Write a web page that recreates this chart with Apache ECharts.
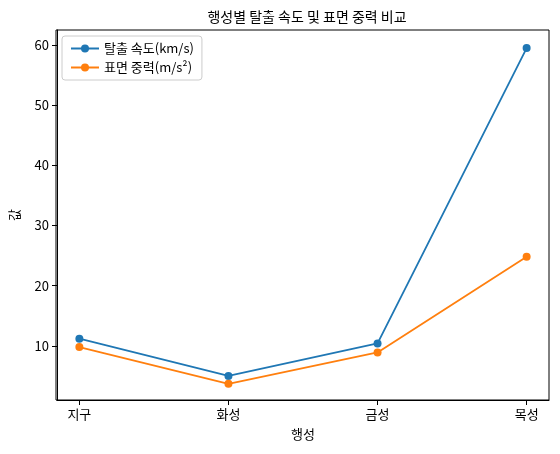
<!DOCTYPE html>
<html><head><meta charset="utf-8">
<script src="https://cdn.jsdelivr.net/npm/echarts@6/dist/echarts.min.js"></script>
<style>body{margin:0}#c{width:560px;height:454px}</style>
</head><body><div id="c"></div>
<script>
var planets = ["지구", "화성", "금성", "목성"];
var escapeVelocity = [11.2, 5.0, 10.4, 59.5];
var surfaceGravity = [9.8, 3.7, 8.9, 24.8];
var yTicks = [10, 20, 30, 40, 50, 60];

var font = "Noto Sans CJK KR";
var chart = echarts.init(document.getElementById('c'));
function pts(arr) {
    return arr.map(function(v, i) { return [i, v]; });
}
chart.setOption({
    animation: false,
    textStyle: { fontFamily: font },
    title: {
        text: "행성별 탈출 속도 및 표면 중력 비교",
        left: 302, top: 5, textAlign: 'center',
        textStyle: { fontSize: 14, fontWeight: 'normal', color: '#000', fontFamily: font }
    },
    legend: {
        left: 62, top: 36, orient: 'vertical',
        backgroundColor: '#fff', borderColor: '#ccc', borderWidth: 1, borderRadius: 3,
        padding: [6, 8], itemGap: 6, itemWidth: 28, itemHeight: 10,
        textStyle: { fontSize: 13, color: '#000', fontFamily: font },
        data: ["탈출 속도(km/s)", "표면 중력(m/s²)"]
    },
    grid: { left: 56, right: 11, top: 30, bottom: 54 },
    xAxis: {
        type: 'value', min: -0.15, max: 3.15,
        name: "행성", nameLocation: 'middle', nameGap: 28,
        nameTextStyle: { fontSize: 13, color: '#000' },
        splitLine: { show: false },
        axisLine: { onZero: false, lineStyle: { color: '#000' } },
        axisTick: { customValues: [0, 1, 2, 3], lineStyle: { color: '#000' } },
        axisLabel: { customValues: [0, 1, 2, 3], color: '#000', fontSize: 13,
            formatter: function(v) { return planets[Math.round(v)]; } }
    },
    yAxis: {
        type: 'value', min: 1, max: 62.5,
        name: "값", nameLocation: 'middle', nameGap: 36,
        nameTextStyle: { fontSize: 13, color: '#000' },
        splitLine: { show: false },
        axisLine: { show: true, onZero: false, lineStyle: { color: '#000' } },
        axisTick: { show: true, customValues: yTicks, lineStyle: { color: '#000' } },
        axisLabel: { customValues: yTicks, color: '#000', fontSize: 13 }
    },
    series: [
        { name: "탈출 속도(km/s)", type: 'line', data: pts(escapeVelocity),
          color: '#1f77b4', symbol: 'circle', symbolSize: 8, lineStyle: { width: 1.8 } },
        { name: "표면 중력(m/s²)", type: 'line', data: pts(surfaceGravity),
          color: '#ff7f0e', symbol: 'circle', symbolSize: 8, lineStyle: { width: 1.8 } }
    ],
    graphic: [{ type: 'rect', shape: { x: 56, y: 30, width: 493, height: 370 },
        style: { fill: 'none', stroke: '#000', lineWidth: 1 }, silent: true }]
});
</script></body></html>
